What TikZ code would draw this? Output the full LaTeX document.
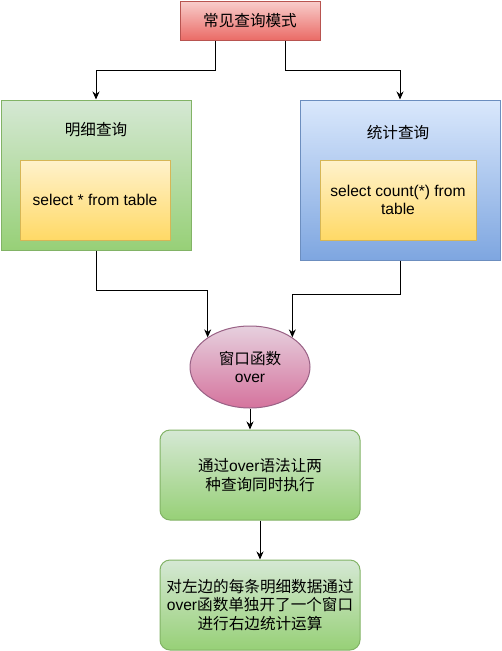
\documentclass[tikz,border=0pt]{standalone}
\usepackage{fontspec}
\setmainfont{Liberation Sans}
\newfontfamily\cjk{Noto Sans CJK SC}
\usepackage{xcolor}
\usepackage{tikz}
\usetikzlibrary{arrows.meta,shapes.geometric}

\newcommand{\zh}[1]{{\cjk #1}}

\definecolor{redtop}{HTML}{F8CECC}
\definecolor{redbot}{HTML}{EA6B66}
\definecolor{redline}{HTML}{B85450}
\definecolor{greentop}{HTML}{D5E8D4}
\definecolor{greenbot}{HTML}{97D077}
\definecolor{greenline}{HTML}{82B366}
\definecolor{bluetop}{HTML}{DAE8FC}
\definecolor{bluebot}{HTML}{7EA6E0}
\definecolor{blueline}{HTML}{6C8EBF}
\definecolor{yellowtop}{HTML}{FFF2CC}
\definecolor{yellowbot}{HTML}{FFD966}
\definecolor{yellowline}{HTML}{D6B656}
\definecolor{pinktop}{HTML}{E6D0DE}
\definecolor{pinkbot}{HTML}{D5739D}
\definecolor{pinkline}{HTML}{996185}

\begin{document}
\begin{tikzpicture}[x=1pt,y=-1pt,
    every node/.style={font=\fontsize{15.6}{18.7}\selectfont, align=center, inner sep=0pt},
    redbox/.style={draw=redline, line width=1pt, top color=redtop, bottom color=redbot},
    greenbox/.style={draw=greenline, line width=1pt, top color=greentop, bottom color=greenbot},
    bluebox/.style={draw=blueline, line width=1pt, top color=bluetop, bottom color=bluebot},
    yellowbox/.style={draw=yellowline, line width=1pt, top color=yellowtop, bottom color=yellowbot},
    pinkoval/.style={ellipse, draw=pinkline, line width=1pt, top color=pinktop, bottom color=pinkbot},
    greenround/.style={greenbox, rounded corners=10pt},
    conn/.style={draw, line width=1pt, -{Stealth[length=8pt,width=7pt]}}]
    \useasboundingbox (0,0) rectangle (501,651);

    \node[redbox, minimum width=140pt, minimum height=39pt] (head) at (250,20.5) {\zh{常见查询模式}};

    \node[greenbox, minimum width=190pt, minimum height=150pt] (detail) at (96,175) {};
    \node (detailtitle) at (96,130) {\zh{明细查询}};
    \node[yellowbox, minimum width=150pt, minimum height=80pt] (detailsql) at (95,200) {select * from table};

    \node[bluebox, minimum width=200pt, minimum height=160pt] (stat) at (400,180) {};
    \node (stattitle) at (398,133) {\zh{统计查询}};
    \node[yellowbox, minimum width=156pt, minimum height=80pt] (statsql) at (398,200) {select count(*) from\\table};

    \node[pinkoval, minimum width=120pt, minimum height=82pt] (oval) at (250,367) {\zh{窗口函数}\\over};

    \node[greenround, minimum width=200pt, minimum height=90pt] (run) at (260,475) {\zh{通过}over\zh{语法让两}\\\zh{种查询同时执行}};
    \node[greenround, minimum width=200pt, minimum height=90pt] (note) at (260,605) {\zh{对左边的每条明细数据通过}\\over\zh{函数单独开了一个窗口}\\\zh{进行右边统计运算}};

    \draw[conn] ([xshift=-35]head.south) -- ++(0,30) -| (detail.north);
    \draw[conn] ([xshift=35]head.south) -- ++(0,30) -| (stat.north);

    \draw[conn] (detail.south) -- ++(0,40) -| (oval.145);
    \draw[conn] (stat.south) -- ++(0,34) -| (oval.35);

    \draw[conn] (oval.south) -- (oval.south |- run.north);
    \draw[conn] (run) -- (note);

  \end{tikzpicture}
\end{document}
